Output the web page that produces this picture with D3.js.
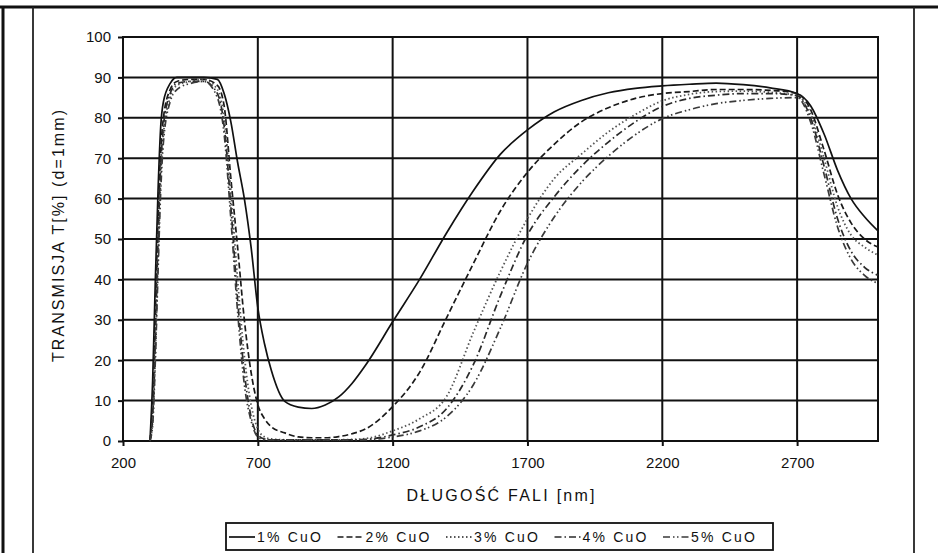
<!DOCTYPE html>
<html lang="pl">
<head>
<meta charset="UTF-8">
<title>Transmisja</title>
<script src="https://d3js.org/d3.v7.min.js"></script>
<style>
    body { margin: 0; background: #fff; font-family: "Liberation Sans", Arial, sans-serif; }
    .grid line { stroke: #111; stroke-width: 2; }
    .axis text { font-size: 15px; fill: #111; }
    .axis path, .axis line { stroke: #111; stroke-width: 2; }
</style>
</head>
<body>
<div id="chart"></div>
<script>
// wavelength grid [nm]
const wavelengths = [300, 310, 320, 330, 340, 350, 375, 400, 450, 500, 550, 575, 600, 625, 650, 675, 700, 725, 750, 800, 850, 900,
    950, 1000, 1050, 1100, 1200, 1300, 1400, 1500, 1600, 1700, 1800, 1900, 2000, 2100, 2200, 2300, 2400, 2500, 2600, 2700,
    2750, 2800, 2850, 2900, 2950, 3000];

// transmission T[%]
const cuo1 = [0, 15, 40, 62, 78, 84, 88.5, 90, 90, 90, 89.5, 86, 79, 69, 60, 48, 33, 24, 17.5, 9.8, 8.4, 8.05,
    8.9, 10.9, 14.3, 18.8, 29.5, 40, 51.5, 62, 71, 77, 81.5, 84.3, 86.2, 87.3, 87.9, 88.3, 88.6, 88.2, 87.4, 86,
    83, 76, 67, 60, 55.5, 52];
const cuo2 = [0, 10, 32, 55, 72, 80, 87, 89, 89.5, 89.5, 88, 83, 65, 48, 30, 17, 9, 5.5, 3.5, 2, 1, 0.8,
    0.8, 1.1, 1.8, 3, 8.5, 17, 30.5, 44, 57, 66.5, 73.5, 79, 82.5, 84.8, 86, 86.5, 87, 87, 86.8, 86,
    82, 72, 61, 54, 50, 48];
const cuo3 = [0, 5, 22, 45, 65, 76, 85, 88, 89, 89.5, 87, 80, 62, 40, 21, 9, 3, 1, 0.5, 0.3, 0.3, 0.3,
    0.3, 0.3, 0.4, 0.6, 2.5, 5.5, 11, 27, 42, 55, 65, 71, 76.5, 80.8, 84.2, 85.8, 86.5, 86.6, 86.3, 85.5,
    81, 70, 58, 51, 48, 46];
const cuo4 = [0, 6, 25, 50, 68, 78, 86, 88.5, 89, 89, 86, 78, 58, 35, 17, 6, 1.5, 0.5, 0.3, 0.3, 0.3, 0.3,
    0.3, 0.3, 0.3, 0.4, 1.5, 3.5, 8, 19, 36, 51, 60.5, 68, 74, 79, 82.8, 84.8, 85.6, 86, 86, 85.5,
    80, 68, 55, 47, 43, 41];
const cuo5 = [0, 4, 20, 42, 62, 74, 84, 87, 88.5, 89, 85, 76, 55, 32, 14, 5, 1, 0.3, 0.3, 0.3, 0.3, 0.3,
    0.3, 0.3, 0.3, 0.3, 1, 2.5, 6, 14, 28, 44, 55.5, 64, 70.5, 75.8, 79.8, 82, 83.5, 84.3, 84.8, 85,
    79, 66, 53, 45, 41, 39];

const seriesNames = ["1% CuO", "2% CuO", "3% CuO", "4% CuO", "5% CuO"];
const seriesValues = [cuo1, cuo2, cuo3, cuo4, cuo5];
const xTicks = [200, 700, 1200, 1700, 2200, 2700];
const yTicks = [0, 10, 20, 30, 40, 50, 60, 70, 80, 90, 100];

// line looks per series
const dashes = ["none", "6,3", "1.5,2.5", "7,3,1.5,3", "7,3,1.5,2.5,1.5,3"];
const strokes = ["#111", "#1a1a1a", "#555", "#2a2a2a", "#3a3a3a"];
const widths = [1.7, 1.7, 1.8, 1.7, 1.7];

const W = 938, H = 553;
const margin = { top: 37, right: 60, bottom: 112, left: 123 };
const width = W - margin.left - margin.right;
const height = H - margin.top - margin.bottom;

const svg = d3.select("#chart").append("svg")
    .attr("width", W)
    .attr("height", H);

// scanned page frame
svg.append("line").attr("x1", 0).attr("x2", W).attr("y1", 7).attr("y2", 7)
    .attr("stroke", "#111").attr("stroke-width", 3);
svg.append("line").attr("x1", 3).attr("x2", 3).attr("y1", 6).attr("y2", H)
    .attr("stroke", "#111").attr("stroke-width", 3);
svg.append("line").attr("x1", 33).attr("x2", 33).attr("y1", 7).attr("y2", H)
    .attr("stroke", "#222").attr("stroke-width", 1.8);
svg.append("line").attr("x1", 914).attr("x2", 914).attr("y1", 7).attr("y2", H)
    .attr("stroke", "#222").attr("stroke-width", 1.8);

const g = svg.append("g").attr("transform", `translate(${margin.left},${margin.top})`);

const x = d3.scaleLinear().domain([200, 3000]).range([0, width]);
const y = d3.scaleLinear().domain([0, 100]).range([height, 0]);

// grid
g.append("g").attr("class", "grid")
    .selectAll("line.h").data(yTicks).join("line")
    .attr("x1", 0).attr("x2", width)
    .attr("y1", d => y(d)).attr("y2", d => y(d));
g.append("g").attr("class", "grid")
    .selectAll("line.v").data(xTicks).join("line")
    .attr("x1", d => x(d)).attr("x2", d => x(d))
    .attr("y1", 0).attr("y2", height);
g.append("rect")
    .attr("width", width).attr("height", height)
    .attr("fill", "none").attr("stroke", "#111").attr("stroke-width", 2);

// axes
g.append("g").attr("class", "axis")
    .attr("transform", `translate(0,${height})`)
    .call(d3.axisBottom(x).tickValues(xTicks).tickFormat(d3.format("d")).tickSize(5).tickPadding(11))
    .call(s => s.select(".domain").remove());
g.append("g").attr("class", "axis")
    .call(d3.axisLeft(y).tickValues(yTicks).tickFormat(d3.format("d")).tickSize(5).tickPadding(7))
    .call(s => s.select(".domain").remove());

// curves
const line = d3.line()
    .x((d, i) => x(wavelengths[i]))
    .y(d => y(d))
    .curve(d3.curveMonotoneX);

seriesValues.forEach((vals, k) => {
    g.append("path")
        .datum(vals)
        .attr("fill", "none")
        .attr("stroke", strokes[k])
        .attr("stroke-width", widths[k])
        .attr("stroke-dasharray", dashes[k])
        .attr("d", line);
});

// axis titles
g.append("text")
    .attr("x", x(1600))
    .attr("y", height + 60)
    .attr("text-anchor", "middle")
    .attr("font-size", 16)
    .attr("textLength", 188)
    .attr("fill", "#111")
    .text("DŁUGOŚĆ FALI [nm]");

g.append("text")
    .attr("transform", `translate(-59,${y(50) - 3}) rotate(-90)`)
    .attr("text-anchor", "middle")
    .attr("font-size", 16)
    .attr("textLength", 252)
    .attr("fill", "#111")
    .text("TRANSMISJA  T[%] (d=1mm)");

// legend
const legend = svg.append("g").attr("transform", "translate(226,523)");
legend.append("rect")
    .attr("width", 547).attr("height", 27)
    .attr("fill", "#fff").attr("stroke", "#111").attr("stroke-width", 1.8);
const item = legend.selectAll("g.item").data(seriesNames).join("g")
    .attr("transform", (d, i) => `translate(${3 + i * 108.5},14)`);
item.append("line")
    .attr("x1", 0).attr("x2", 26)
    .attr("stroke", (d, i) => strokes[i])
    .attr("stroke-width", (d, i) => widths[i])
    .attr("stroke-dasharray", (d, i) => dashes[i]);
item.append("text")
    .attr("x", 28).attr("y", 5)
    .attr("font-size", 14)
    .attr("textLength", 64)
    .attr("fill", "#111")
    .text(d => d);
</script>
</body>
</html>
